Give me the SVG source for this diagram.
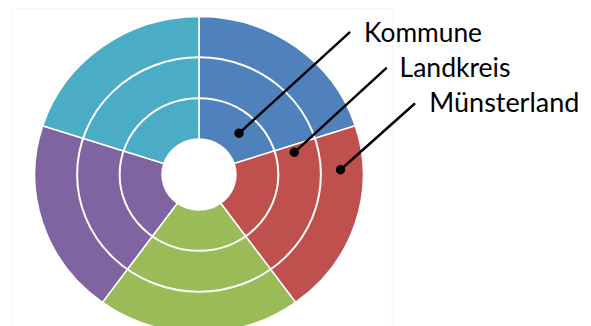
<svg xmlns="http://www.w3.org/2000/svg" width="591" height="326" viewBox="0 0 591 326">
<style>
.seg{stroke:#ffffff;stroke-width:1.5;stroke-linejoin:round}
.ring{fill:none;stroke:#ffffff;stroke-width:2}
.lead{stroke:#000000;stroke-width:2.5;stroke-linecap:round;fill:none}
.dot{fill:#000000}
.lbl{font-family:Lato,"Open Sans","Liberation Sans",sans-serif;font-size:26px;fill:#000000}
</style>
<rect x="0" y="0" width="591" height="326" fill="#ffffff"/>
<rect x="12" y="8.5" width="380" height="340" fill="none" stroke="#f6f6f6" stroke-width="1"/>
<g id="donut" transform="translate(199,174.5) scale(1.04,1)">
<g id="seg-blue"><path class="seg" fill="#4F81BD" d="M0,-158 A158,158 0 0 1 150.27,-48.82 L33.76,-10.97 A35.5,35.5 0 0 0 0,-35.5 Z"/></g>
<g id="seg-red"><path class="seg" fill="#C0504D" d="M150.27,-48.82 A158,158 0 0 1 92.87,127.83 L20.87,28.72 A35.5,35.5 0 0 0 33.76,-10.97 Z"/></g>
<g id="seg-green"><path class="seg" fill="#9BBB59" d="M92.87,127.83 A158,158 0 0 1 -92.87,127.83 L-20.87,28.72 A35.5,35.5 0 0 0 20.87,28.72 Z"/></g>
<g id="seg-purple"><path class="seg" fill="#8064A2" d="M-92.87,127.83 A158,158 0 0 1 -150.27,-48.82 L-33.76,-10.97 A35.5,35.5 0 0 0 -20.87,28.72 Z"/></g>
<g id="seg-cyan"><path class="seg" fill="#4BACC6" d="M-150.27,-48.82 A158,158 0 0 1 0,-158 L0,-35.5 A35.5,35.5 0 0 0 -33.76,-10.97 Z"/></g>
<g id="rings">
<circle class="ring" cx="0" cy="0" r="76.3" vector-effect="non-scaling-stroke"/>
<circle class="ring" cx="0" cy="0" r="117.2" vector-effect="non-scaling-stroke"/>
</g>
</g>
<g id="connectors">
<line class="lead" x1="239" y1="133.3" x2="349.3" y2="32.7"/>
<line class="lead" x1="294.3" y1="152.3" x2="386" y2="68.3"/>
<line class="lead" x1="340.5" y1="169.8" x2="414.3" y2="104"/>
<circle class="dot" cx="239" cy="133.3" r="4.7"/>
<circle class="dot" cx="294.3" cy="152.3" r="4.7"/>
<circle class="dot" cx="340.5" cy="169.8" r="4.7"/>
</g>
<g id="label-kommune"><text class="lbl" x="364" y="41.7" textLength="118" lengthAdjust="spacingAndGlyphs">Kommune</text></g>
<g id="label-landkreis"><text class="lbl" x="399.5" y="76.8" textLength="111" lengthAdjust="spacingAndGlyphs">Landkreis</text></g>
<g id="label-muensterland"><text class="lbl" x="429.3" y="111.7" textLength="150" lengthAdjust="spacingAndGlyphs">Münsterland</text></g>
</svg>
